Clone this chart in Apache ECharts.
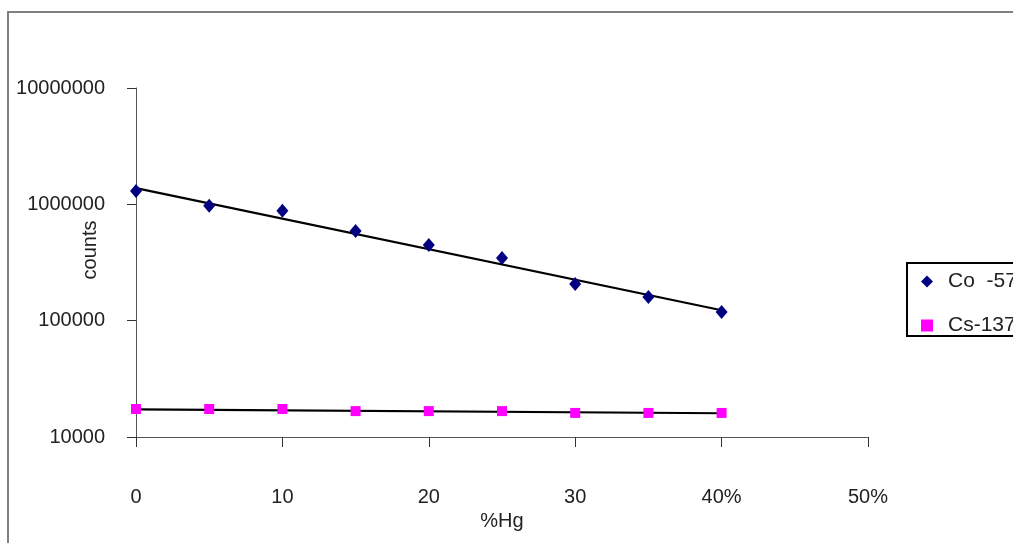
<!DOCTYPE html>
<html>
<head>
<meta charset="utf-8">
<script src="https://cdn.jsdelivr.net/npm/echarts@6/dist/echarts.min.js"></script>
<style>html,body{margin:0;padding:0;background:#fff;}#c{width:1013px;height:543px;}</style>
</head>
<body>
<div id="c"></div>
<script>
var hgPercent = [0, 5, 10, 15, 20, 25, 30, 35, 40];
var co57Counts = [1300000, 970000, 880000, 590000, 447000, 346000, 207000, 160000, 119000];
var cs137Counts = [17400, 17400, 17400, 16700, 16700, 16700, 16100, 16100, 16100];
var co57TrendX = [0, 40];
var co57TrendY = [1380000, 123000];
var cs137TrendX = [0, 40];
var cs137TrendY = [17300, 16000];
var xTickLabels = ['0', '10', '20', '30', '40%', '50%'];
var xTickValues = [0, 10, 20, 30, 40, 50];

function pairs(xs, ys) { return xs.map(function (x, i) { return [x, ys[i]]; }); }

var chart = echarts.init(document.getElementById('c'));
var font = 'Liberation Sans, Arial, sans-serif';
chart.setOption({
  animation: false,
  backgroundColor: '#fff',
  textStyle: { fontFamily: font },
  grid: { left: 136, right: 145, top: 88, bottom: 106, containLabel: false },
  xAxis: {
    type: 'value', min: 0, max: 50, interval: 10,
    name: '%Hg', nameLocation: 'middle', nameGap: 64,
    nameTextStyle: { fontSize: 20, color: '#222', fontFamily: font },
    axisLine: { show: true, onZero: false, lineStyle: { color: '#555', width: 1 } },
    axisTick: { show: true, inside: false, length: 10, lineStyle: { color: '#333' } },
    axisLabel: {
      margin: 50, fontSize: 20, color: '#222', fontFamily: font,
      formatter: function (v) { var i = xTickValues.indexOf(v); return i >= 0 ? xTickLabels[i] : ''; }
    },
    splitLine: { show: false }
  },
  yAxis: {
    type: 'log', logBase: 10, min: 10000, max: 10000000,
    axisLine: { show: true, lineStyle: { color: '#555', width: 1 } },
    axisTick: { show: true, inside: false, length: 9, lineStyle: { color: '#333' } },
    axisLabel: { margin: 31, fontSize: 20, color: '#222', fontFamily: font,
      formatter: function (v) { return String(Math.round(v)); } },
    minorTick: { show: false },
    splitLine: { show: false }
  },
  legend: {
    orient: 'vertical', left: 907, top: 263,
    padding: [8, 60, 0, 14],
    itemGap: 23, itemWidth: 12, itemHeight: 12,
    borderColor: '#000', borderWidth: 2,
    textStyle: { fontSize: 21, color: '#222', fontFamily: font, padding: [0, 0, 0, 10] },
    data: [
      { name: 'Co  -57', icon: 'diamond' },
      { name: 'Cs-137', icon: 'rect' }
    ]
  },
  graphic: [
    { type: 'rect', shape: { x: 8, y: 12, width: 1100, height: 600 },
      style: { fill: 'none', stroke: '#808080', lineWidth: 2 }, z: -10, silent: true },
    { type: 'text', x: 90, y: 250, rotation: Math.PI / 2,
      style: { text: 'counts', fontSize: 20, fill: '#222', fontFamily: font,
        textAlign: 'center', textVerticalAlign: 'middle' } }
  ],
  series: [
    { name: 'co57trend', type: 'line', data: pairs(co57TrendX, co57TrendY), symbol: 'none',
      lineStyle: { color: '#000', width: 2.2 }, z: 2, silent: true },
    { name: 'cs137trend', type: 'line', data: pairs(cs137TrendX, cs137TrendY), symbol: 'none',
      lineStyle: { color: '#000', width: 2.2 }, z: 2, silent: true },
    { name: 'Co  -57', type: 'scatter', data: pairs(hgPercent, co57Counts), symbol: 'diamond',
      symbolSize: [12, 14], itemStyle: { color: '#000080', opacity: 1 }, z: 3 },
    { name: 'Cs-137', type: 'scatter', data: pairs(hgPercent, cs137Counts), symbol: 'rect',
      symbolSize: 10, itemStyle: { color: '#FF00FF', opacity: 1 }, z: 3 }
  ]
});
</script>
</body>
</html>
